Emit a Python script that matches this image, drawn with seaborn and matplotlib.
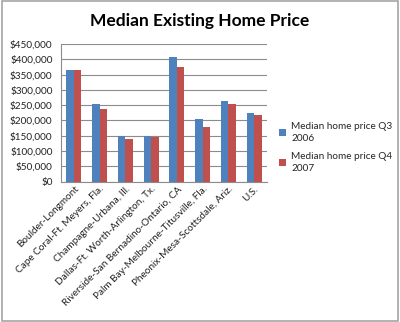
import matplotlib
matplotlib.use("Agg")
import matplotlib.pyplot as plt
import seaborn as sns
import pandas as pd
from matplotlib.patches import Rectangle
from matplotlib.ticker import FuncFormatter, MultipleLocator

categories = ["Boulder-Longmont", "Cape Coral-Ft. Meyers, Fla.", "Champagne-Urbana, Ill.",
              "Dallas-Ft. Worth-Arlington, Tx.", "Riverside-San Bernadino-Ontario, CA",
              "Palm Bay-Melbourne-Titusville, Fla.", "Pheonix-Mesa-Scottsdale, Ariz.", "U.S."]
q3_2006 = [365000, 254000, 149000, 149000, 408000, 206000, 265000, 224000]
q4_2007 = [365000, 237000, 141000, 146000, 376000, 180000, 254000, 218000]
series_names = ["Median home price Q3\n2006", "Median home price Q4\n2007"]

df = pd.DataFrame({
    "cat": categories * 2,
    "val": q3_2006 + q4_2007,
    "series": [series_names[0]] * len(categories) + [series_names[1]] * len(categories),
})

sns.set_theme(style="white")
plt.rcParams["font.family"] = ["Lato", "DejaVu Sans"]

fig = plt.figure(figsize=(4.0, 3.22), dpi=100)
ax = fig.add_axes([0.1525, 0.4357, 0.515, 0.4277])

sns.barplot(data=df, x="cat", y="val", hue="series", ax=ax,
            palette=["#4F81BD", "#C0504D"], width=0.58, gap=0, saturation=1,
            edgecolor="none", zorder=3)

ax.set_ylim(0, 450000)
ax.yaxis.set_major_locator(MultipleLocator(50000))
ax.yaxis.set_major_formatter(FuncFormatter(lambda v, p: "${:,.0f}".format(v)))
ax.grid(axis="y", color="#8c8c8c", linewidth=0.8, zorder=0)
ax.set_axisbelow(True)
ax.set_xlim(-0.5, len(categories) - 0.5)
ax.set_xlabel("")
ax.set_ylabel("")
for s in ["top", "right"]:
    ax.spines[s].set_visible(False)
for s in ["left", "bottom"]:
    ax.spines[s].set_color("#8c8c8c")
    ax.spines[s].set_linewidth(0.8)
ax.tick_params(axis="y", labelsize=7.2, length=0, pad=6, colors="#222222")
ax.tick_params(axis="x", labelsize=7.2, length=0, pad=2, colors="#222222")
plt.setp(ax.get_xticklabels(), rotation=45, ha="right", rotation_mode="anchor")

leg = ax.legend(loc="upper left", bbox_to_anchor=(1.04, 0.46), frameon=False,
                fontsize=7.2, handlelength=0.7, handleheight=0.7, handletextpad=0.5,
                labelspacing=0.9, borderaxespad=0)
for t in leg.get_texts():
    t.set_linespacing(1.4)

fig.text(0.5, 0.935, "Median Existing Home Price", ha="center", va="center",
         fontsize=12.5, fontweight="bold", color="black")

fig.patches.append(Rectangle((0.004, 0.004), 0.992, 0.992, transform=fig.transFigure,
                             fill=False, edgecolor="#a6a6a6", linewidth=1.2))

fig.savefig("out.png", dpi=100)
